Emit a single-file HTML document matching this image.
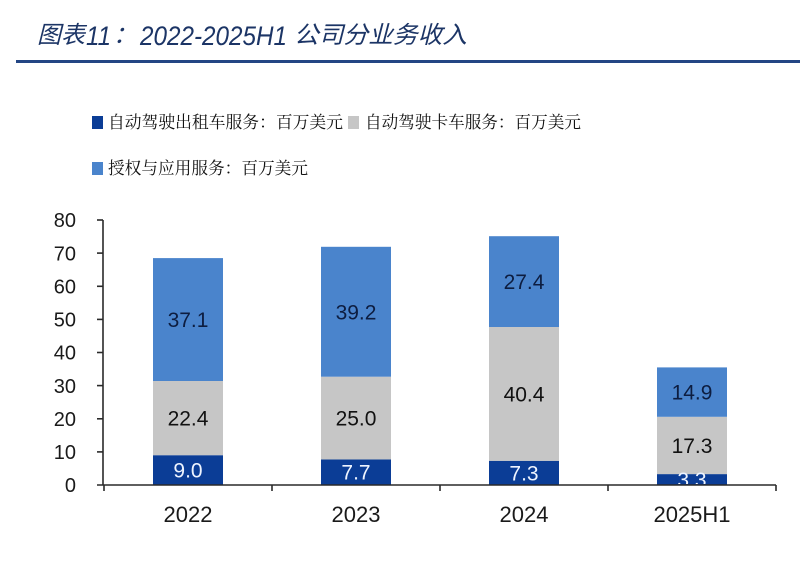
<!DOCTYPE html>
<html><head><meta charset="utf-8"><style>
html,body{margin:0;padding:0;background:#fff;}
svg{display:block;}
</style></head><body>
<svg width="800" height="564" viewBox="0 0 800 564" xmlns="http://www.w3.org/2000/svg">
<rect width="800" height="564" fill="#fff"/>
<!-- Title -->
<g fill="#1c3566" font-style="italic">
<text x="37" y="43" font-family="'Noto Sans CJK SC',sans-serif" font-size="24" textLength="48" lengthAdjust="spacingAndGlyphs">图表</text>
<text x="86" y="45" font-family="'Liberation Sans',sans-serif" font-size="27" textLength="25" lengthAdjust="spacingAndGlyphs">11</text>
<text x="113" y="43" font-family="'Noto Sans CJK SC',sans-serif" font-size="24">：</text>
<text x="140" y="45" font-family="'Liberation Sans',sans-serif" font-size="27" textLength="147" lengthAdjust="spacingAndGlyphs">2022-2025H1</text>
<text x="294" y="43" font-family="'Noto Sans CJK SC',sans-serif" font-size="24" textLength="173" lengthAdjust="spacingAndGlyphs">公司分业务收入</text>
</g>
<rect x="16" y="60" width="784" height="3" fill="#234684"/>
<!-- Legend -->
<rect x="92" y="116" width="11" height="13" fill="#0b3d96"/>
<text x="108" y="128" font-family="'Noto Serif CJK SC',serif" font-size="17" fill="#111" textLength="235" lengthAdjust="spacingAndGlyphs">自动驾驶出租车服务：百万美元</text>
<rect x="348" y="116" width="11" height="13" fill="#c6c6c6"/>
<text x="365" y="128" font-family="'Noto Serif CJK SC',serif" font-size="17" fill="#111" textLength="216" lengthAdjust="spacingAndGlyphs">自动驾驶卡车服务：百万美元</text>
<rect x="92" y="162" width="11" height="13" fill="#4a84cc"/>
<text x="108" y="174" font-family="'Noto Serif CJK SC',serif" font-size="17" fill="#111" textLength="200" lengthAdjust="spacingAndGlyphs">授权与应用服务：百万美元</text>
<!-- Y tick labels -->
<g font-family="'Liberation Sans',sans-serif" font-size="20" fill="#1a1a1a" text-anchor="end">
<text x="76" y="227.2">80</text>
<text x="76" y="260.3">70</text>
<text x="76" y="293.5">60</text>
<text x="76" y="326.6">50</text>
<text x="76" y="359.7">40</text>
<text x="76" y="392.8">30</text>
<text x="76" y="425.9">20</text>
<text x="76" y="459.1">10</text>
<text x="76" y="492.2">0</text>
</g>
<defs><clipPath id="pc"><rect x="100" y="200" width="700" height="284"/></clipPath></defs>
<!-- Bars -->
<g>
<rect x="153" y="455.2" width="70" height="29.8" fill="#0b3d96"/>
<rect x="153" y="381.0" width="70" height="74.2" fill="#c6c6c6"/>
<rect x="153" y="258.1" width="70" height="122.9" fill="#4a84cc"/>
<rect x="321" y="459.5" width="70" height="25.5" fill="#0b3d96"/>
<rect x="321" y="376.7" width="70" height="82.8" fill="#c6c6c6"/>
<rect x="321" y="246.8" width="70" height="129.9" fill="#4a84cc"/>
<rect x="489" y="460.8" width="70" height="24.2" fill="#0b3d96"/>
<rect x="489" y="327.0" width="70" height="133.8" fill="#c6c6c6"/>
<rect x="489" y="236.2" width="70" height="90.8" fill="#4a84cc"/>
<rect x="657" y="474.1" width="70" height="10.9" fill="#0b3d96"/>
<rect x="657" y="416.8" width="70" height="57.3" fill="#c6c6c6"/>
<rect x="657" y="367.4" width="70" height="49.4" fill="#4a84cc"/>
</g>
<!-- Data labels -->
<g font-family="'Liberation Sans',sans-serif" font-size="21" text-anchor="middle">
<text x="188" y="477.6" fill="#eef4ff">9.0</text>
<text x="188" y="425.6" fill="#111">22.4</text>
<text x="188" y="327.0" fill="#0d1d40">37.1</text>
<text x="356" y="479.7" fill="#eef4ff">7.7</text>
<text x="356" y="425.6" fill="#111">25.0</text>
<text x="356" y="319.3" fill="#0d1d40">39.2</text>
<text x="524" y="480.4" fill="#eef4ff">7.3</text>
<text x="524" y="401.4" fill="#111">40.4</text>
<text x="524" y="289.1" fill="#0d1d40">27.4</text>
<text x="692" y="487.0" fill="#eef4ff" clip-path="url(#pc)">3.3</text>
<text x="692" y="452.9" fill="#111">17.3</text>
<text x="692" y="399.6" fill="#0d1d40">14.9</text>
</g>
<!-- Axes -->
<g stroke="#2a2a2a" stroke-width="1.6" fill="none">
<line x1="103" y1="220" x2="103" y2="485"/>
<line x1="97" y1="485" x2="776" y2="485"/>
<line x1="97" y1="220" x2="103" y2="220"/>
<line x1="97" y1="253.1" x2="103" y2="253.1"/>
<line x1="97" y1="286.3" x2="103" y2="286.3"/>
<line x1="97" y1="319.4" x2="103" y2="319.4"/>
<line x1="97" y1="352.5" x2="103" y2="352.5"/>
<line x1="97" y1="385.6" x2="103" y2="385.6"/>
<line x1="97" y1="418.8" x2="103" y2="418.8"/>
<line x1="97" y1="451.9" x2="103" y2="451.9"/>
<line x1="104" y1="485" x2="104" y2="491"/>
<line x1="272" y1="485" x2="272" y2="491"/>
<line x1="440" y1="485" x2="440" y2="491"/>
<line x1="608" y1="485" x2="608" y2="491"/>
<line x1="776" y1="485" x2="776" y2="491"/>
</g>
<!-- X labels -->
<g font-family="'Liberation Sans',sans-serif" font-size="22" fill="#1a1a1a" text-anchor="middle">
<text x="188" y="522">2022</text>
<text x="356" y="522">2023</text>
<text x="524" y="522">2024</text>
<text x="692" y="522">2025H1</text>
</g>
</svg>
</body></html>
